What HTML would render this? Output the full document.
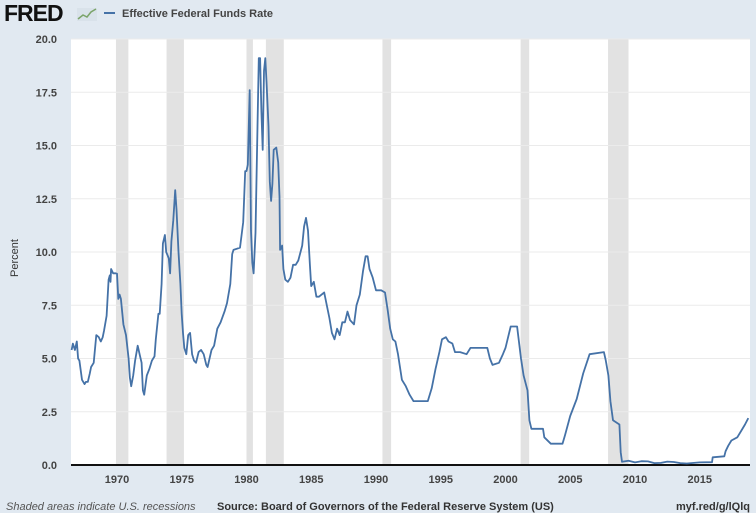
<!DOCTYPE html>
<html><head><meta charset="utf-8">
<style>
body{margin:0;width:756px;height:513px;background:#e1e9f1;font-family:"Liberation Sans",sans-serif;overflow:hidden}
svg{position:absolute;left:0;top:0}
</style></head>
<body>
<svg width="756" height="513" id="chart">
  <text x="4" y="21" font-size="23" font-weight="bold" fill="#111" letter-spacing="-1">FRED</text>
  <g>
    <rect x="77" y="8" width="20" height="13" fill="#d9e2ea"/>
    <polyline points="78,19 83,15 87,17 91,12 96,9" fill="none" stroke="#7ba46a" stroke-width="1.5"/>
  </g>
  <line x1="104" y1="13" x2="115" y2="13" stroke="#4572a7" stroke-width="2"/>
  <text x="122" y="17" font-size="11" font-weight="bold" fill="#444">Effective Federal Funds Rate</text>
  <rect x="71" y="39" width="679" height="426" fill="#fff"/>
  <g id="rec"></g>
  <g id="grid"></g>
  <g id="yt"></g>
  <g id="xt"></g>
  <line x1="71" y1="465" x2="750" y2="465" stroke="#111" stroke-width="2"/>
  <path id="line" fill="none" stroke="#4572a7" stroke-width="1.8" stroke-linejoin="round"/>
  <text x="18" y="258" font-size="11" fill="#333" transform="rotate(-90 18 258)" text-anchor="middle">Percent</text>
  <text x="6" y="510" font-size="11" font-style="italic" fill="#555">Shaded areas indicate U.S. recessions</text>
  <text x="217" y="510" font-size="11" font-weight="bold" fill="#333">Source: Board of Governors of the Federal Reserve System (US)</text>
  <text x="750" y="510" font-size="11" font-weight="bold" fill="#333" text-anchor="end">myf.red/g/lQlq</text>
</svg>
<script>
const yTicks=[0,2.5,5,7.5,10,12.5,15,17.5,20];
const xTicks=[1970,1975,1980,1985,1990,1995,2000,2005,2010,2015];
const recStart=[1969.92,1973.83,1980.0,1981.5,1990.5,2001.17,2007.92];
const recEnd=[1970.88,1975.17,1980.5,1982.88,1991.17,2001.83,2009.5];
const dates=[1966.5,1966.6,1966.75,1966.9,1967.0,1967.1,1967.3,1967.5,1967.6,1967.75,1967.9,1968.0,1968.2,1968.4,1968.6,1968.75,1968.9,1969.0,1969.2,1969.35,1969.45,1969.5,1969.55,1969.7,1969.9,1970.0,1970.1,1970.2,1970.3,1970.5,1970.7,1970.9,1971.0,1971.1,1971.25,1971.4,1971.6,1971.75,1971.9,1972.0,1972.1,1972.3,1972.5,1972.7,1972.9,1973.0,1973.2,1973.3,1973.45,1973.55,1973.7,1973.8,1974.0,1974.1,1974.2,1974.35,1974.5,1974.6,1974.75,1974.9,1975.0,1975.1,1975.2,1975.35,1975.5,1975.65,1975.8,1975.95,1976.1,1976.3,1976.5,1976.7,1976.9,1977.0,1977.3,1977.5,1977.75,1978.0,1978.3,1978.5,1978.75,1978.9,1979.0,1979.5,1979.75,1979.9,1980.0,1980.1,1980.25,1980.35,1980.45,1980.55,1980.7,1980.85,1980.95,1981.05,1981.15,1981.25,1981.35,1981.45,1981.55,1981.7,1981.8,1981.9,1982.0,1982.1,1982.3,1982.45,1982.55,1982.6,1982.75,1982.85,1983.0,1983.2,1983.4,1983.6,1983.8,1984.0,1984.3,1984.45,1984.6,1984.75,1984.9,1985.0,1985.2,1985.4,1985.6,1985.8,1986.0,1986.2,1986.4,1986.6,1986.8,1987.0,1987.2,1987.4,1987.6,1987.8,1988.0,1988.3,1988.5,1988.75,1989.0,1989.2,1989.35,1989.5,1989.75,1990.0,1990.4,1990.7,1990.9,1991.1,1991.3,1991.5,1991.7,1991.9,1992.0,1992.3,1992.6,1992.9,1993.5,1994.0,1994.3,1994.6,1994.9,1995.1,1995.4,1995.6,1995.9,1996.1,1996.5,1997.0,1997.3,1998.0,1998.6,1998.8,1999.0,1999.5,1999.8,2000.0,2000.4,2000.9,2001.0,2001.2,2001.4,2001.7,2001.85,2002.0,2002.9,2003.0,2003.5,2004.4,2004.6,2005.0,2005.5,2006.0,2006.5,2007.6,2007.75,2007.95,2008.1,2008.3,2008.8,2008.9,2009.0,2009.5,2010.0,2010.5,2011.0,2011.5,2012.0,2012.5,2013.0,2013.5,2014.0,2015.0,2015.95,2016.0,2016.9,2017.0,2017.2,2017.45,2017.9,2018.2,2018.5,2018.75];
const rates=[5.4,5.7,5.4,5.8,5.0,4.9,4.0,3.8,3.9,3.9,4.3,4.6,4.8,6.1,6.0,5.8,6.0,6.3,7.0,8.7,8.9,8.6,9.2,9.0,9.0,8.98,7.8,8.0,7.8,6.6,6.1,5.0,4.1,3.7,4.2,4.9,5.6,5.2,4.8,3.5,3.3,4.2,4.5,4.9,5.1,5.9,7.1,7.1,8.5,10.4,10.8,10.0,9.7,9.0,10.5,11.5,12.9,12.0,10.0,8.5,7.1,6.2,5.5,5.2,6.1,6.2,5.2,4.9,4.8,5.3,5.4,5.2,4.7,4.6,5.4,5.6,6.4,6.7,7.2,7.6,8.5,9.9,10.1,10.2,11.4,13.8,13.8,14.1,17.6,11.0,9.5,9.0,10.9,15.9,19.1,19.1,16.6,14.8,18.5,19.1,18.0,15.9,13.3,12.4,13.2,14.8,14.9,14.2,12.6,10.1,10.3,9.2,8.7,8.6,8.8,9.4,9.4,9.6,10.3,11.2,11.6,11.0,9.4,8.4,8.6,7.9,7.9,8.0,8.1,7.5,6.9,6.2,5.9,6.4,6.1,6.7,6.7,7.2,6.8,6.6,7.5,8.0,9.1,9.8,9.8,9.2,8.8,8.2,8.2,8.1,7.3,6.4,5.9,5.8,5.2,4.4,4.0,3.7,3.3,3.0,3.0,3.0,3.6,4.5,5.3,5.9,6.0,5.8,5.7,5.3,5.3,5.2,5.5,5.5,5.5,5.0,4.7,4.8,5.2,5.5,6.5,6.5,6.0,5.0,4.2,3.5,2.1,1.7,1.7,1.3,1.0,1.0,1.4,2.3,3.1,4.3,5.2,5.3,4.9,4.2,3.0,2.1,1.9,0.6,0.15,0.2,0.12,0.18,0.17,0.09,0.1,0.16,0.14,0.09,0.07,0.12,0.13,0.36,0.41,0.65,0.9,1.15,1.3,1.6,1.9,2.2];

const NS='http://www.w3.org/2000/svg';
const X0=71,X1=750,Y0=465,Y1=39,T0=1966.45,PX=12.95;
function xs(t){return X0+(t-T0)*PX;}
function ys(v){return Y0-(v/20)*(Y0-Y1);}
function mk(tag,attrs,parent){const e=document.createElementNS(NS,tag);for(const k in attrs)e.setAttribute(k,attrs[k]);document.getElementById(parent).appendChild(e);return e;}

recStart.forEach((s,i)=>{
  const e=mk('rect',{x:xs(s),y:Y1,width:xs(recEnd[i])-xs(s),height:Y0-Y1,fill:'#e2e2e2'},'rec');
  
  
});
yTicks.forEach(v=>{
  if(v>0){const g=mk('line',{x1:X0,x2:X1,y1:ys(v),y2:ys(v),stroke:'#ebebeb','stroke-width':1},'grid');
  
  }
  const t=mk('text',{x:57,y:ys(v)+4,'font-size':11,'font-weight':'bold',fill:'#444','text-anchor':'end'},'yt');
  t.textContent=v.toFixed(1);
  
  
});
xTicks.forEach(y=>{
  const t=mk('text',{x:xs(y),y:483,'font-size':11,'font-weight':'bold',fill:'#444','text-anchor':'middle'},'xt');
  t.textContent=y;
  
  
});
let d='';
dates.forEach((t,i)=>{d+=(i?'L':'M')+xs(t).toFixed(1)+','+ys(rates[i]).toFixed(1);});
document.getElementById('line').setAttribute('d',d);
</script>
</body></html>
